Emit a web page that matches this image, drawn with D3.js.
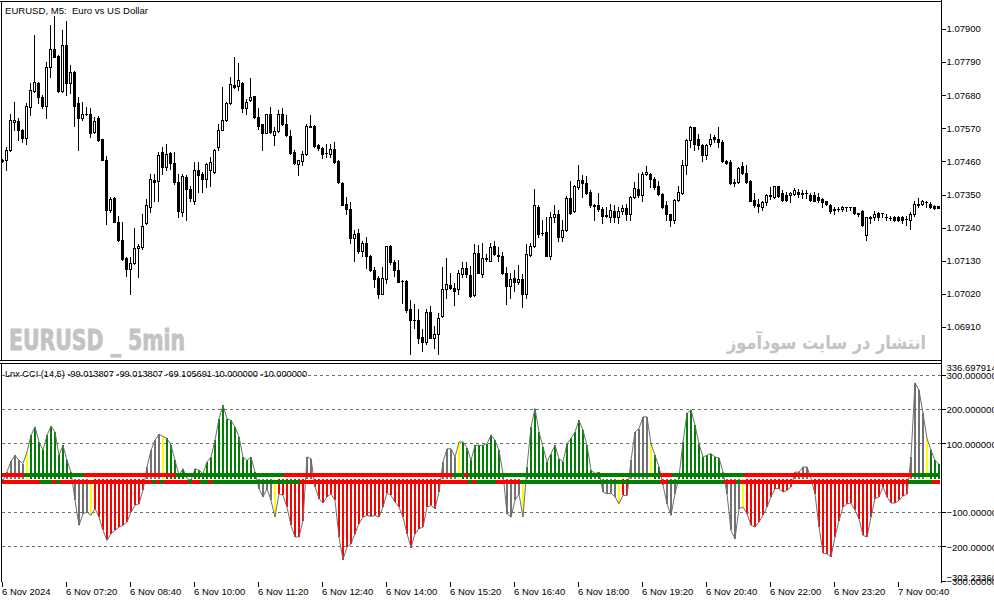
<!DOCTYPE html>
<html>
<head>
<meta charset="utf-8">
<script src="https://cdn.jsdelivr.net/npm/d3@7"></script>
<style>
  html, body { margin: 0; padding: 0; background: #fff; }
  svg { display: block; }
  text { font-family: "Liberation Sans", Arial, sans-serif; font-size: 9.5px; fill: #000; }
</style>
</head>
<body>
<svg id="chart" width="994" height="603"></svg>
<script>
// EURUSD M5, 6 Nov 2024 06:00 onwards, one entry per bar
const opens = [
  1.07464, 1.07464, 1.07497, 1.07591, 1.07595, 1.07564, 1.07539, 1.07641, 1.07695, 1.07721,
  1.07675, 1.07644, 1.07775, 1.07833, 1.07810, 1.07695, 1.07847, 1.07721, 1.07758, 1.07655,
  1.07603, 1.07617, 1.07619, 1.07558, 1.07603, 1.07533, 1.07466, 1.07299, 1.07338, 1.07260,
  1.07199, 1.07139, 1.07103, 1.07121, 1.07173, 1.07177, 1.07255, 1.07308, 1.07399, 1.07395,
  1.07491, 1.07441, 1.07488, 1.07456, 1.07391, 1.07291, 1.07408, 1.07369, 1.07330, 1.07433,
  1.07419, 1.07403, 1.07430, 1.07425, 1.07508, 1.07566, 1.07597, 1.07653, 1.07714, 1.07710,
  1.07721, 1.07636, 1.07664, 1.07677, 1.07606, 1.07584, 1.07555, 1.07617, 1.07549, 1.07561,
  1.07619, 1.07584, 1.07544, 1.07491, 1.07453, 1.07461, 1.07484, 1.07577, 1.07577, 1.07514,
  1.07506, 1.07488, 1.07486, 1.07503, 1.07460, 1.07389, 1.07319, 1.07303, 1.07206, 1.07223,
  1.07161, 1.07189, 1.07147, 1.07099, 1.07072, 1.07021, 1.07069, 1.07180, 1.07125, 1.07099,
  1.07064, 1.07064, 1.06969, 1.06933, 1.06934, 1.06877, 1.06861, 1.06960, 1.06875, 1.06886,
  1.06945, 1.07036, 1.07049, 1.07041, 1.07036, 1.07086, 1.07106, 1.07084, 1.07016, 1.07156,
  1.07086, 1.07136, 1.07130, 1.07180, 1.07149, 1.07147, 1.07091, 1.07045, 1.07073, 1.07058,
  1.07069, 1.07021, 1.07150, 1.07180, 1.07310, 1.07223, 1.07227, 1.07147, 1.07275, 1.07286,
  1.07210, 1.07233, 1.07339, 1.07295, 1.07375, 1.07399, 1.07388, 1.07360, 1.07314, 1.07316,
  1.07303, 1.07283, 1.07275, 1.07297, 1.07275, 1.07297, 1.07306, 1.07286, 1.07341, 1.07369,
  1.07347, 1.07417, 1.07419, 1.07403, 1.07377, 1.07353, 1.07314, 1.07284, 1.07264, 1.07333,
  1.07355, 1.07449, 1.07530, 1.07573, 1.07533, 1.07516, 1.07480, 1.07517, 1.07541, 1.07533,
  1.07525, 1.07460, 1.07458, 1.07391, 1.07391, 1.07445, 1.07421, 1.07394, 1.07333, 1.07317,
  1.07308, 1.07325, 1.07347, 1.07341, 1.07379, 1.07355, 1.07350, 1.07347, 1.07353, 1.07358,
  1.07356, 1.07355, 1.07350, 1.07350, 1.07341, 1.07334, 1.07327, 1.07314, 1.07303, 1.07303,
  1.07303, 1.07308, 1.07308, 1.07308, 1.07288, 1.07295, 1.07214, 1.07273, 1.07277, 1.07288,
  1.07288, 1.07275, 1.07273, 1.07275, 1.07275, 1.07275, 1.07269, 1.07266, 1.07284, 1.07319,
  1.07317, 1.07325, 1.07319, 1.07311, 1.07311
]
const highs = [
  1.07469, 1.07508, 1.07619, 1.07658, 1.07603, 1.07569, 1.07653, 1.07719, 1.07880, 1.07725,
  1.07680, 1.07791, 1.07914, 1.07944, 1.07814, 1.07897, 1.07925, 1.07780, 1.07760, 1.07675,
  1.07658, 1.07641, 1.07636, 1.07608, 1.07610, 1.07533, 1.07477, 1.07341, 1.07341, 1.07280,
  1.07258, 1.07141, 1.07141, 1.07239, 1.07186, 1.07286, 1.07336, 1.07419, 1.07419, 1.07491,
  1.07508, 1.07519, 1.07491, 1.07491, 1.07419, 1.07419, 1.07414, 1.07380, 1.07458, 1.07458,
  1.07425, 1.07455, 1.07475, 1.07503, 1.07586, 1.07706, 1.07658, 1.07739, 1.07808, 1.07786,
  1.07725, 1.07669, 1.07736, 1.07677, 1.07636, 1.07586, 1.07619, 1.07641, 1.07575, 1.07630,
  1.07636, 1.07614, 1.07564, 1.07497, 1.07466, 1.07495, 1.07586, 1.07614, 1.07580, 1.07519,
  1.07508, 1.07519, 1.07517, 1.07523, 1.07464, 1.07391, 1.07341, 1.07325, 1.07233, 1.07236,
  1.07195, 1.07210, 1.07150, 1.07110, 1.07080, 1.07110, 1.07180, 1.07184, 1.07133, 1.07133,
  1.07066, 1.07066, 1.06999, 1.06988, 1.06969, 1.06903, 1.06969, 1.06980, 1.06914, 1.06958,
  1.07110, 1.07139, 1.07091, 1.07055, 1.07099, 1.07125, 1.07125, 1.07113, 1.07186, 1.07184,
  1.07188, 1.07153, 1.07188, 1.07195, 1.07175, 1.07158, 1.07108, 1.07088, 1.07099, 1.07117,
  1.07086, 1.07186, 1.07188, 1.07369, 1.07314, 1.07264, 1.07277, 1.07291, 1.07314, 1.07299,
  1.07264, 1.07344, 1.07394, 1.07383, 1.07447, 1.07414, 1.07411, 1.07364, 1.07317, 1.07355,
  1.07308, 1.07310, 1.07319, 1.07314, 1.07308, 1.07314, 1.07319, 1.07344, 1.07391, 1.07421,
  1.07425, 1.07444, 1.07421, 1.07408, 1.07394, 1.07355, 1.07330, 1.07286, 1.07336, 1.07380,
  1.07464, 1.07533, 1.07577, 1.07575, 1.07550, 1.07519, 1.07519, 1.07550, 1.07547, 1.07575,
  1.07530, 1.07466, 1.07464, 1.07403, 1.07441, 1.07458, 1.07447, 1.07397, 1.07355, 1.07336,
  1.07330, 1.07353, 1.07375, 1.07380, 1.07380, 1.07366, 1.07358, 1.07358, 1.07371, 1.07369,
  1.07366, 1.07366, 1.07355, 1.07358, 1.07355, 1.07338, 1.07330, 1.07317, 1.07308, 1.07308,
  1.07313, 1.07310, 1.07310, 1.07310, 1.07290, 1.07299, 1.07277, 1.07280, 1.07295, 1.07291,
  1.07289, 1.07284, 1.07280, 1.07280, 1.07280, 1.07280, 1.07280, 1.07291, 1.07330, 1.07339,
  1.07333, 1.07330, 1.07325, 1.07314, 1.07313
]
const lows = [
  1.07458, 1.07430, 1.07495, 1.07564, 1.07530, 1.07525, 1.07519, 1.07614, 1.07691, 1.07653,
  1.07636, 1.07603, 1.07741, 1.07806, 1.07691, 1.07691, 1.07680, 1.07686, 1.07577, 1.07497,
  1.07597, 1.07614, 1.07541, 1.07555, 1.07528, 1.07464, 1.07253, 1.07291, 1.07258, 1.07197,
  1.07133, 1.07080, 1.07019, 1.07119, 1.07077, 1.07169, 1.07253, 1.07291, 1.07330, 1.07330,
  1.07417, 1.07430, 1.07436, 1.07386, 1.07275, 1.07280, 1.07264, 1.07330, 1.07317, 1.07358,
  1.07358, 1.07375, 1.07380, 1.07421, 1.07497, 1.07564, 1.07595, 1.07650, 1.07703, 1.07699,
  1.07625, 1.07619, 1.07661, 1.07605, 1.07569, 1.07497, 1.07553, 1.07555, 1.07514, 1.07558,
  1.07580, 1.07544, 1.07486, 1.07453, 1.07414, 1.07447, 1.07480, 1.07573, 1.07508, 1.07497,
  1.07471, 1.07475, 1.07475, 1.07456, 1.07388, 1.07314, 1.07286, 1.07188, 1.07130, 1.07155,
  1.07145, 1.07105, 1.07097, 1.07044, 1.07005, 1.07019, 1.07055, 1.07119, 1.07080, 1.07060,
  1.06991, 1.06961, 1.06819, 1.06908, 1.06858, 1.06830, 1.06853, 1.06873, 1.06839, 1.06819,
  1.06944, 1.07008, 1.07035, 1.06984, 1.07019, 1.07077, 1.07075, 1.07011, 1.07014, 1.07088,
  1.07075, 1.07128, 1.07128, 1.07150, 1.07128, 1.07086, 1.06988, 1.07005, 1.07030, 1.07053,
  1.06975, 1.07006, 1.07147, 1.07177, 1.07210, 1.07214, 1.07146, 1.07136, 1.07258, 1.07197,
  1.07195, 1.07230, 1.07286, 1.07293, 1.07369, 1.07341, 1.07353, 1.07308, 1.07267, 1.07297,
  1.07255, 1.07275, 1.07258, 1.07258, 1.07255, 1.07286, 1.07266, 1.07264, 1.07339, 1.07341,
  1.07330, 1.07414, 1.07375, 1.07369, 1.07350, 1.07306, 1.07264, 1.07247, 1.07255, 1.07330,
  1.07353, 1.07419, 1.07508, 1.07497, 1.07503, 1.07461, 1.07469, 1.07510, 1.07525, 1.07508,
  1.07458, 1.07453, 1.07386, 1.07377, 1.07388, 1.07419, 1.07388, 1.07328, 1.07310, 1.07291,
  1.07299, 1.07314, 1.07336, 1.07339, 1.07341, 1.07330, 1.07330, 1.07325, 1.07349, 1.07341,
  1.07339, 1.07339, 1.07330, 1.07328, 1.07325, 1.07310, 1.07314, 1.07288, 1.07286, 1.07295,
  1.07297, 1.07295, 1.07299, 1.07286, 1.07280, 1.07247, 1.07200, 1.07255, 1.07264, 1.07264,
  1.07277, 1.07264, 1.07264, 1.07261, 1.07261, 1.07255, 1.07250, 1.07236, 1.07280, 1.07308,
  1.07314, 1.07310, 1.07306, 1.07303, 1.07305
]
const closes = [
  1.07463, 1.07497, 1.07599, 1.07597, 1.07564, 1.07539, 1.07644, 1.07697, 1.07725, 1.07673,
  1.07644, 1.07773, 1.07833, 1.07808, 1.07695, 1.07847, 1.07721, 1.07758, 1.07644, 1.07603,
  1.07617, 1.07616, 1.07555, 1.07595, 1.07530, 1.07466, 1.07299, 1.07336, 1.07260, 1.07199,
  1.07136, 1.07103, 1.07121, 1.07173, 1.07180, 1.07245, 1.07314, 1.07403, 1.07391, 1.07483,
  1.07441, 1.07486, 1.07455, 1.07391, 1.07295, 1.07410, 1.07369, 1.07339, 1.07433, 1.07414,
  1.07403, 1.07453, 1.07458, 1.07499, 1.07566, 1.07599, 1.07653, 1.07717, 1.07708, 1.07730,
  1.07639, 1.07658, 1.07675, 1.07606, 1.07577, 1.07555, 1.07617, 1.07558, 1.07561, 1.07619,
  1.07584, 1.07549, 1.07488, 1.07455, 1.07464, 1.07486, 1.07577, 1.07576, 1.07510, 1.07506,
  1.07484, 1.07487, 1.07503, 1.07458, 1.07391, 1.07316, 1.07303, 1.07206, 1.07219, 1.07161,
  1.07189, 1.07147, 1.07099, 1.07071, 1.07021, 1.07073, 1.07178, 1.07125, 1.07099, 1.07061,
  1.07063, 1.06967, 1.06933, 1.06932, 1.06875, 1.06861, 1.06960, 1.06875, 1.06886, 1.06941,
  1.07036, 1.07053, 1.07038, 1.07030, 1.07089, 1.07106, 1.07086, 1.07014, 1.07156, 1.07091,
  1.07139, 1.07138, 1.07177, 1.07153, 1.07145, 1.07088, 1.07045, 1.07069, 1.07058, 1.07069,
  1.07019, 1.07153, 1.07180, 1.07314, 1.07219, 1.07222, 1.07147, 1.07277, 1.07286, 1.07208,
  1.07233, 1.07339, 1.07288, 1.07380, 1.07399, 1.07388, 1.07355, 1.07316, 1.07313, 1.07303,
  1.07280, 1.07278, 1.07299, 1.07275, 1.07297, 1.07306, 1.07286, 1.07341, 1.07373, 1.07347,
  1.07419, 1.07425, 1.07403, 1.07375, 1.07353, 1.07310, 1.07284, 1.07264, 1.07333, 1.07358,
  1.07447, 1.07530, 1.07573, 1.07517, 1.07514, 1.07483, 1.07516, 1.07536, 1.07533, 1.07525,
  1.07460, 1.07455, 1.07388, 1.07390, 1.07439, 1.07421, 1.07391, 1.07330, 1.07314, 1.07311,
  1.07325, 1.07347, 1.07344, 1.07377, 1.07344, 1.07333, 1.07333, 1.07355, 1.07364, 1.07353,
  1.07353, 1.07354, 1.07333, 1.07330, 1.07333, 1.07325, 1.07317, 1.07297, 1.07299, 1.07302,
  1.07310, 1.07307, 1.07308, 1.07288, 1.07287, 1.07250, 1.07275, 1.07277, 1.07286, 1.07277,
  1.07288, 1.07274, 1.07272, 1.07266, 1.07264, 1.07266, 1.07268, 1.07286, 1.07319, 1.07314,
  1.07327, 1.07324, 1.07308, 1.07306, 1.07306
]

// Lnx CCI (14,5) main value per bar
const cciValues = [
  -5, 20, 50, 68, 53, 44, 78, 126, 151, 107,
  83, 126, 153, 136, 68, 97, 53, 19, -63, -136,
  -102, -97, -107, -87, -112, -151, -180, -160, -151, -141,
  -136, -126, -97, -78, -73, -34, 34, 83, 112, 129,
  123, 117, 97, 53, 10, 29, 0, -5, 29, 24,
  15, 49, 63, 112, 175, 214, 175, 170, 151, 122,
  63, 53, 63, 19, -29, -53, -29, -63, -112, -44,
  -49, -83, -136, -170, -170, -122, 63, 58, -24, -58,
  -71, -53, -44, -63, -170, -236, -199, -190, -160, -131,
  -112, -107, -110, -107, -112, -83, -42, -49, -68, -83,
  -112, -160, -201, -160, -146, -141, -83, -78, -87, -39,
  49, 87, 87, 63, 107, 107, 90, 53, 97, 97,
  97, 102, 126, 112, 83, 15, -102, -112, -63, -44,
  -112, 34, 151, 204, 136, 92, 49, 73, 97, 58,
  49, 102, 117, 136, 170, 141, 97, 24, 15, 19,
  -39, -44, -42, -53, -73, -49, -49, 53, 136, 146,
  180, 180, 102, 68, 34, -19, -73, -107, -44, 5,
  107, 190, 201, 155, 102, 63, 68, 73, 63, 61,
  19, -44, -151, -175, -87, -83, -102, -136, -141, -126,
  -107, -83, -53, -29, -29, -39, -34, -24, 19, 19,
  34, 34, 0, -44, -141, -217, -219, -228, -170, -122,
  -83, -73, -71, -92, -117, -165, -170, -112, -58, -53,
  -24, -53, -71, -71, -63, -51, -44, 63, 279, 258,
  190, 117, 83, 53, 42
]
// histogram state per bar: g = up, r = down, y = turn, n = neutral
const histState = [
  'nnnnnnyggg', 'ggggggggnn', 'nnyrrrrrrr', 'rrrrrrnnnn', 'ygggggnngg',
  'gggggggggg', 'ggggnnnnyr', 'rrrrrrnnrr', 'rrrrrrrrrr', 'rrrrrrrrrr',
  'rrrrrrrrrr', 'nnnnyggggg', 'gggggnnnnn', 'yggggggggg', 'ggggggggng',
  'nnnnyrrnnn', 'nnyggnnnng', 'gggggggggg', 'nnnnnyrrrr', 'rrrrrrrrnn',
  'nnnrrrrrrr', 'rrrrrrrrrr', 'rrrrrrrnnn', 'nyggg'
].join('').split('')
// signal strips drawn at +10 and -10
const upperState = [
  'rrrrrrgggg', 'gggggggggg', 'grrrrrrrrr', 'rrrrrrrrrr', 'rrrrgggggg',
  'gggggggggg', 'gggggggggg', 'grrrrrrrrr', 'rrrrrrrrrr', 'rrrrrrrrrr',
  'rrrrrrrrrr', 'rrrgggrggg', 'gggggggggg', 'gggggggggg', 'gggggggggg',
  'gggggggggg', 'gggggrrrgg', 'gggggggggg', 'ggggggrrrr', 'rrrrrrrrrr',
  'rrrrrrrrrr', 'rrrrrrrrrr', 'rrrrrrrrgg', 'ggggg'
].join('').split('')
const lowerState = [
  'rrrrrrrrrr', 'gggrgrrrrr', 'rrrrrrrrrr', 'rrrrrrrrgr', 'grrrrrrgrr',
  'ggrggggggg', 'gggggggggg', 'gggggrrrrr', 'rrrrrrrrrr', 'rrrrrrrrrr',
  'rrrrrrrrrr', 'rrrrrrrgrg', 'ggggrrrrrr', 'gggggggggg', 'gggggggggg',
  'gggggggggg', 'gggggrrggg', 'gggggggggg', 'grrrgrrrrr', 'rrrrrrrrrr',
  'rrrrrrrrrr', 'rrrrrrrrrr', 'rrrrrrrggg', 'gggrr'
].join('').split('')

const priceTicks = [1.07900, 1.07790, 1.07680, 1.07570, 1.07460, 1.07350, 1.07240, 1.07130, 1.07020, 1.06910]
const cciLevels = [300, 200, 100, -100, -200, -300]
const cciMax = 336.697914
const cciMin = -303.2336
const stripLevels = [10, -10]
const tickBars = [0, 16, 32, 48, 64, 80, 96, 112, 128, 144, 160, 176, 192, 208, 224]
const tickLabels = ['6 Nov 2024', '6 Nov 07:20', '6 Nov 08:40', '6 Nov 10:00', '6 Nov 11:20',
  '6 Nov 12:40', '6 Nov 14:00', '6 Nov 15:20', '6 Nov 16:40', '6 Nov 18:00', '6 Nov 19:20',
  '6 Nov 20:40', '6 Nov 22:00', '6 Nov 23:20', '7 Nov 00:40']

const COLORS = { g: '#008000', r: '#ff0000', y: '#ffff00', n: '#737373' }

const $svg = d3.select('#chart')
const FRAME = { left: 1.5, right: 941.5 }
const MAIN = { top: 1.5, bottom: 360.5 }
const SUB = { top: 363.5, bottom: 581.5 }

const xScale = d3.scaleLinear().domain([0, 1]).range([2.5, 6.5])
const yPrice = d3.scaleLinear().domain([1.06910, 1.07900]).range([327, 29])
const yCci = d3.scaleLinear().domain([-200, 200]).range([547.3, 410])

function crisp(v) { return Math.round(v) + 0.5 }

function drawFrames() {
  const $g = $svg.append('g').attr('stroke', '#000').attr('shape-rendering', 'crispEdges')
  $g.append('line').attr('x1', 0).attr('x2', FRAME.right).attr('y1', MAIN.top).attr('y2', MAIN.top)
  $g.append('line').attr('x1', 0).attr('x2', FRAME.right).attr('y1', MAIN.bottom).attr('y2', MAIN.bottom)
  $g.append('line').attr('x1', 0).attr('x2', FRAME.right).attr('y1', SUB.top).attr('y2', SUB.top)
  $g.append('line').attr('x1', FRAME.left).attr('x2', FRAME.left).attr('y1', MAIN.top).attr('y2', MAIN.bottom)
  $g.append('line').attr('x1', FRAME.left).attr('x2', FRAME.left).attr('y1', SUB.top).attr('y2', SUB.bottom)
  $g.append('line').attr('x1', FRAME.right).attr('x2', FRAME.right).attr('y1', 0).attr('y2', SUB.bottom + 1)

  const defs = $svg.append('defs')
  defs.append('clipPath').attr('id', 'clip-main').append('rect')
    .attr('x', 2).attr('y', 2).attr('width', FRAME.right - 2).attr('height', MAIN.bottom - 2)
  defs.append('clipPath').attr('id', 'clip-sub').append('rect')
    .attr('x', 2).attr('y', SUB.top + 0.5).attr('width', FRAME.right - 2).attr('height', SUB.bottom - SUB.top - 1)
}

function drawMain() {
  const $g = $svg.append('g').attr('clip-path', 'url(#clip-main)')

  // watermarks sit behind the candles
  $g.append('text')
    .attr('x', 9).attr('y', 349.5)
    .attr('textLength', 176).attr('lengthAdjust', 'spacingAndGlyphs')
    .style('font-family', '"Liberation Sans Narrow", "DejaVu Sans Condensed", "Liberation Sans", sans-serif')
    .style('font-weight', 'bold').style('font-size', '29px').style('fill', '#c3c3c3')
    .style('stroke', '#c3c3c3').style('stroke-width', 0.8)
    .style('white-space', 'pre')
    .text('EURUSD _ 5min')
  $g.append('text')
    .attr('x', 826.5).attr('y', 349).attr('text-anchor', 'middle')
    .attr('textLength', 199).attr('lengthAdjust', 'spacingAndGlyphs')
    .style('font-family', '"DejaVu Sans", "Noto Sans", sans-serif')
    .style('font-weight', 'bold').style('font-size', '19px').style('fill', '#c3c3c3')
    .text('انتشار در سایت سودآموز')

  const bars = d3.range(closes.length)
  const $c = $g.append('g').attr('shape-rendering', 'crispEdges')
  $c.selectAll('.wick')
    .data(bars)
    .enter()
    .append('rect')
      .attr('class', 'wick')
      .attr('x', i => xScale(i) - 0.5)
      .attr('y', i => Math.round(yPrice(highs[i])))
      .attr('width', 1)
      .attr('height', i => Math.max(1, Math.round(yPrice(lows[i])) - Math.round(yPrice(highs[i])) + 1))
      .attr('fill', '#000')

  $c.selectAll('.body')
    .data(bars)
    .enter()
    .append('rect')
      .attr('class', 'body')
      .each(function (i) {
        const top = Math.round(yPrice(Math.max(opens[i], closes[i])))
        const bot = Math.round(yPrice(Math.min(opens[i], closes[i])))
        const up = closes[i] > opens[i]
        const $r = d3.select(this)
        if (!up || bot - top < 2) {
          $r.attr('x', xScale(i) - 1.5).attr('y', top).attr('width', 3)
            .attr('height', Math.max(1, bot - top + 1)).attr('fill', '#000')
        } else {
          $r.attr('x', xScale(i) - 1).attr('y', top + 0.5).attr('width', 2)
            .attr('height', bot - top).attr('fill', '#fff').attr('stroke', '#000')
        }
      })
}

function drawSub() {
  const $g = $svg.append('g').attr('clip-path', 'url(#clip-sub)')
  const bars = d3.range(cciValues.length)
  const zero = Math.round(yCci(0))

  $g.selectAll('.level')
    .data(cciLevels)
    .enter()
    .append('line')
      .attr('class', 'level')
      .attr('x1', FRAME.left).attr('x2', FRAME.right)
      .attr('y1', d => crisp(yCci(d)) - 1).attr('y2', d => crisp(yCci(d)) - 1)
      .attr('stroke', '#6e6e6e').attr('stroke-dasharray', '3,3')
      .attr('shape-rendering', 'crispEdges')

  $g.selectAll('.hist')
    .data(bars)
    .enter()
    .append('rect')
      .attr('class', 'hist')
      .attr('x', i => xScale(i) - 0.5)
      .attr('width', 2)
      .attr('y', i => Math.min(zero, Math.round(yCci(cciValues[i]))))
      .attr('height', i => Math.abs(Math.round(yCci(cciValues[i])) - zero))
      .attr('fill', i => COLORS[histState[i]])
      .attr('shape-rendering', 'crispEdges')

  const line = d3.line()
    .x(i => xScale(i) + 0.5)
    .y(i => yCci(cciValues[i]))
  $g.append('path')
    .datum(bars)
    .attr('d', line)
    .attr('fill', 'none')
    .attr('stroke', '#6e6e6e')
    .attr('stroke-width', 1)

  stripLevels.forEach((lvl, k) => {
    const state = k === 0 ? upperState : lowerState
    $g.selectAll('.strip' + k)
      .data(bars)
      .enter()
      .append('rect')
        .attr('class', 'strip' + k)
        .attr('x', i => xScale(i) - 2.5)
        .attr('width', 4)
        .attr('y', Math.floor(yCci(lvl) - 2))
        .attr('height', 4)
        .attr('fill', i => COLORS[state[i]])
        .attr('shape-rendering', 'crispEdges')
  })
}

function drawAxes() {
  const fmtPrice = d3.format('.5f')
  const fmtCci = d3.format('.6f')
  const $a = $svg.append('g')

  $a.selectAll('.ptick')
    .data(priceTicks)
    .enter()
    .append('line')
      .attr('x1', FRAME.right).attr('x2', FRAME.right + 4)
      .attr('y1', d => crisp(yPrice(d))).attr('y2', d => crisp(yPrice(d)))
      .attr('stroke', '#000').attr('shape-rendering', 'crispEdges')
  $a.selectAll('.plabel')
    .data(priceTicks)
    .enter()
    .append('text')
      .attr('x', FRAME.right + 5).attr('y', d => yPrice(d)).attr('dy', '0.35em')
      .text(d => fmtPrice(d))

  // max / min labels are nudged inside the window, the lower pair overlaps as in the terminal
  const subTicks = [
    { v: cciMax, y: yCci(cciMax) + 5 },
    ...cciLevels.map(v => ({ v, y: yCci(v) })),
    { v: cciMin, y: yCci(cciMin) - 5 }
  ]
  $a.selectAll('.ctick')
    .data(cciLevels)
    .enter()
    .append('line')
      .attr('x1', FRAME.right).attr('x2', FRAME.right + 4)
      .attr('y1', d => crisp(yCci(d)) - 1).attr('y2', d => crisp(yCci(d)) - 1)
      .attr('stroke', '#000').attr('shape-rendering', 'crispEdges')
  $a.selectAll('.clabel')
    .data(subTicks)
    .enter()
    .append('text')
      .attr('x', FRAME.right + 5).attr('y', d => d.y).attr('dy', '0.35em')
      .text(d => fmtCci(d.v))

  $a.selectAll('.xtick')
    .data(tickBars)
    .enter()
    .append('line')
      .attr('x1', d => xScale(d)).attr('x2', d => xScale(d))
      .attr('y1', SUB.bottom).attr('y2', SUB.bottom + 5)
      .attr('stroke', '#000').attr('shape-rendering', 'crispEdges')
  $a.selectAll('.xlabel')
    .data(tickBars)
    .enter()
    .append('text')
      .attr('x', d => xScale(d) - 0.5).attr('y', 595)
      .text((d, k) => tickLabels[k])

  $a.append('text')
    .attr('x', 5).attr('y', 14)
    .attr('textLength', 143).attr('lengthAdjust', 'spacingAndGlyphs')
    .style('white-space', 'pre')
    .text('EURUSD, M5:  Euro vs US Dollar')
  $a.append('text')
    .attr('x', 5).attr('y', 377)
    .attr('textLength', 302).attr('lengthAdjust', 'spacingAndGlyphs')
    .text('Lnx CCI (14,5) -99.013807 -99.013807 -69.105691 10.000000 -10.000000')
}

function init() {
  drawFrames()
  drawMain()
  drawSub()
  drawAxes()
}

init()
</script>
</body>
</html>
